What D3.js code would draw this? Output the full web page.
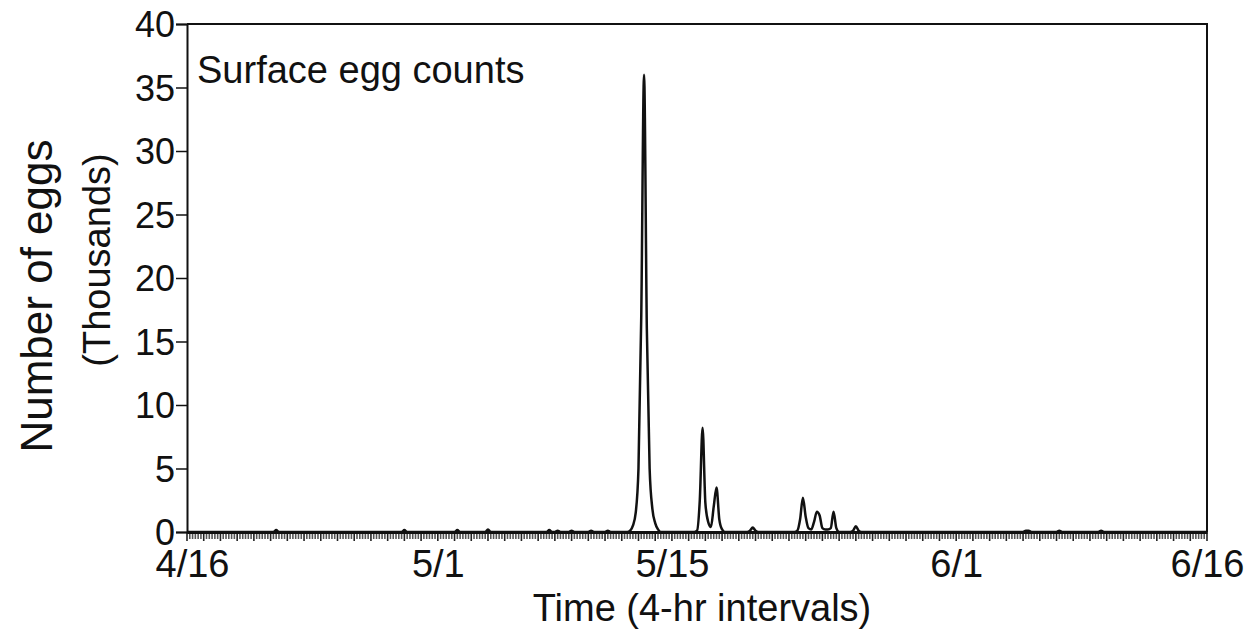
<!DOCTYPE html>
<html>
<head>
<meta charset="utf-8">
<script src="https://cdn.jsdelivr.net/npm/d3@7"></script>
<style>
  body { margin: 0; background: #fff; }
  svg text { font-family: "Liberation Sans", Arial, sans-serif; fill: #111; }
</style>
</head>
<body>
<svg id="chart" width="1250" height="635"></svg>
<script>
// surface egg counts, 4-hr intervals from 4/16 00:00 to 6/16 00:00
// only the non-zero intervals are listed, all others read as 0
const startDate = new Date(Date.UTC(2000, 3, 16));
const endDate = new Date(Date.UTC(2000, 5, 16));
const eventSlots  = [32, 78, 97, 108, 130, 133, 138, 145, 151,
  159, 160, 161, 162, 163, 164, 165, 166, 167, 168, 169,
  183, 184, 185, 186, 187, 188, 189, 190, 191, 192,
  202, 203, 204,
  219, 220, 221, 222, 223, 224, 225, 226, 227, 228, 229, 230, 231, 232, 233,
  239, 240, 241, 301, 302, 313, 328];
const eventCounts = [0.15, 0.15, 0.15, 0.2, 0.15, 0.1, 0.1, 0.1, 0.1,
  0.1, 0.5, 1.5, 5, 17, 36, 16, 5, 1.8, 0.7, 0.2,
  0.1, 2.5, 8.2, 2.3, 0.8, 0.4, 2.0, 3.5, 1.0, 0.2,
  0.1, 0.35, 0.1,
  0.1, 1.0, 2.7, 1.2, 0.3, 0.2, 0.8, 1.6, 1.3, 0.3, 0.2, 0.2, 0.3, 1.6, 0.3,
  0.1, 0.45, 0.1, 0.1, 0.1, 0.1, 0.1];
const yTicks = [0, 5, 10, 15, 20, 25, 30, 35, 40];
const xTickDates = ["2000-04-16", "2000-05-01", "2000-05-15", "2000-06-01", "2000-06-16"];
const xTickLabels = ["4/16", "5/1", "5/15", "6/1", "6/16"];

const slotTimes = d3.utcHour.every(4).range(startDate, new Date(+endDate + 1));
const countBySlot = new Map(eventSlots.map((s, i) => [s, eventCounts[i]]));
const series = slotTimes.map((t, i) => ({ t, v: countBySlot.get(i) || 0 }));

const svg = d3.select("#chart");
const plotLeft = 187, plotRight = 1207, plotTop = 24, plotBottom = 532;
const fontSize = 38;

const x = d3.scaleUtc().domain([startDate, endDate]).range([plotLeft, plotRight]);
const y = d3.scaleLinear().domain([0, 40]).range([plotBottom, plotTop]);

// dense 4-hr tick strip under the baseline
svg.append("g")
  .selectAll("line")
  .data(slotTimes)
  .join("line")
  .attr("x1", d => x(d)).attr("x2", d => x(d))
  .attr("y1", plotBottom).attr("y2", d => d.getUTCHours() === 0 ? plotBottom + 9 : plotBottom + 7)
  .attr("stroke", d => d.getUTCHours() === 0 ? "#222" : "#555")
  .attr("stroke-width", 1.6);

// frame top and right
svg.append("path")
  .attr("d", `M${plotLeft},${plotTop}H${plotRight}V${plotBottom}`)
  .attr("fill", "none").attr("stroke", "#111").attr("stroke-width", 2);

// y axis
const yAxis = svg.append("g")
  .attr("transform", `translate(${plotLeft},0)`)
  .call(d3.axisLeft(y).tickValues(yTicks).tickSize(11).tickPadding(1));
yAxis.select(".domain").attr("stroke", "#111").attr("stroke-width", 2);
yAxis.selectAll(".tick line").attr("stroke", "#111").attr("stroke-width", 1.5);
yAxis.selectAll("text").style("font-size", fontSize - 2 + "px").attr("dy", "0.36em");

// x axis
const xAxis = svg.append("g")
  .attr("transform", `translate(0,${plotBottom})`)
  .call(d3.axisBottom(x)
    .tickValues(xTickDates.map(d => new Date(d + "T00:00:00Z")))
    .tickFormat((d, i) => xTickLabels[i])
    .tickSize(0).tickPadding(18));
xAxis.select(".domain").attr("stroke", "#111").attr("stroke-width", 3);
xAxis.selectAll("text").style("font-size", fontSize + "px")
  .attr("dx", (d, i) => i === 0 ? 5 : 0);

// series line
const line = d3.line()
  .x(d => x(d.t))
  .y(d => y(d.v))
  .curve(d3.curveMonotoneX);
svg.append("path")
  .datum(series)
  .attr("d", line)
  .attr("fill", "none")
  .attr("stroke", "#111")
  .attr("stroke-width", 2.5)
  .attr("stroke-linejoin", "round");

// labels
svg.append("text")
  .attr("x", 197).attr("y", 83)
  .style("font-size", fontSize + "px")
  .text("Surface egg counts");

svg.append("text")
  .attr("x", 702).attr("y", 621)
  .attr("text-anchor", "middle")
  .style("font-size", fontSize + "px")
  .text("Time (4-hr intervals)");

svg.append("text")
  .attr("transform", "translate(52,296) rotate(-90)")
  .attr("text-anchor", "middle")
  .style("font-size", "44px")
  .text("Number of eggs");

svg.append("text")
  .attr("transform", "translate(110,260) rotate(-90)")
  .attr("text-anchor", "middle")
  .style("font-size", fontSize + "px")
  .text("(Thousands)");
</script>
</body>
</html>
